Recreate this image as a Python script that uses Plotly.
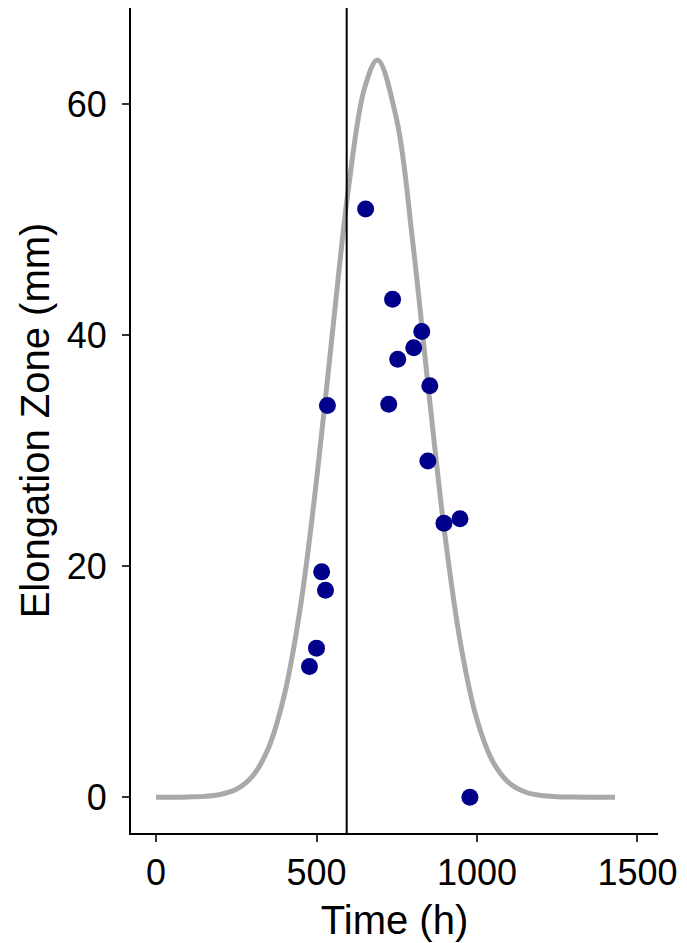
import plotly.graph_objects as go

# Observed data points (Time in h, Elongation zone in mm)
obs_time = [478, 500, 516, 528, 534, 653, 725, 737, 753, 803, 828, 847, 853, 897, 947, 978]
obs_ez = [11.3, 12.9, 19.5, 17.9, 33.9, 50.9, 34.0, 43.1, 37.9, 38.9, 40.3, 29.1, 35.6, 23.7, 24.1, 0.0]

# Fitted curve
curve_time = [0, 50, 100, 150, 200, 250, 300, 350, 400, 450, 500, 550, 600, 650, 690,
              750, 800, 850, 900, 950, 1000, 1050, 1100, 1150, 1200, 1250, 1300, 1350, 1400, 1430]
curve_ez = [0.0, 0.0, 0.02, 0.07, 0.23, 0.68, 1.8, 4.24, 8.87, 16.5, 27.4, 40.3, 52.8, 61.4, 63.8,
            58.6, 48.0, 35.0, 22.7, 13.1, 6.7, 3.05, 1.24, 0.45, 0.14, 0.04, 0.01, 0.0, 0.0, 0.0]

# Vertical reference time
vline_time = 594

x_ticks = [0, 500, 1000, 1500]
y_ticks = [0, 20, 40, 60]

fig = go.Figure()
fig.add_trace(go.Scatter(x=curve_time, y=curve_ez, mode="lines",
                         line=dict(color="#A9A9A9", width=5, shape="spline"),
                         showlegend=False, hoverinfo="skip"))
fig.add_trace(go.Scatter(x=obs_time, y=obs_ez, mode="markers",
                         marker=dict(color="#00008B", size=17),
                         showlegend=False))
fig.add_vline(x=vline_time, line=dict(color="black", width=2))

font = "Liberation Sans, Arial, sans-serif"
# the page body has an 8px default margin, so the figure is sized to fit the window
fig.update_layout(
    width=679, height=935,
    margin=dict(l=123, r=29, t=0, b=110),
    plot_bgcolor="white", paper_bgcolor="white",
    font=dict(family=font, color="black"),
    xaxis=dict(range=[-78, 1564], tickvals=x_ticks, ticktext=[str(v) for v in x_ticks],
               showline=True, linecolor="black", linewidth=2, mirror=False,
               ticks="outside", ticklen=7, tickwidth=2, tickcolor="#333333",
               showgrid=False, zeroline=False, automargin=False,
               tickfont=dict(size=36, color="black"),
               title=dict(text="Time (h)", font=dict(size=40, color="black"), standoff=14)),
    yaxis=dict(range=[-3.1, 68.3], tickvals=y_ticks, ticktext=[str(v) for v in y_ticks],
               showline=True, linecolor="black", linewidth=2, mirror=False,
               ticks="outside", ticklen=7, tickwidth=2, tickcolor="#333333",
               showgrid=False, zeroline=False, automargin=False,
               ticklabelstandoff=8,
               tickfont=dict(size=36, color="black"),
               title=dict(text="Elongation Zone (mm)", font=dict(size=40, color="black"), standoff=5)),
)

fig.write_html("out.html")
